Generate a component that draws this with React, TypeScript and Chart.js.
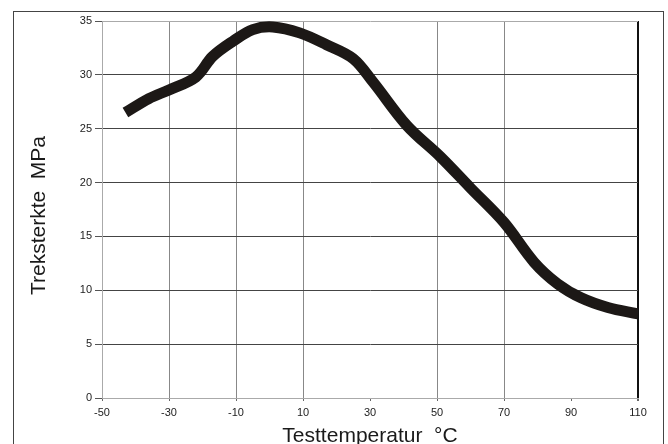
import React, { useEffect, useRef } from "react";
import { Chart, registerables } from "chart.js";

Chart.register(...registerables);

const temperatures = [-43, -36, -30, -22, -17, -11, -5, 1, 9, 17, 25, 31, 41, 51, 60, 70, 79, 86, 93, 101, 110];
const strengths = [26.5, 27.8, 28.6, 29.8, 31.7, 33.1, 34.2, 34.45, 33.9, 32.8, 31.5, 29.3, 25.3, 22.4, 19.5, 16.3, 12.6, 10.6, 9.3, 8.4, 7.8];
const xTicks = [-50, -30, -10, 10, 30, 50, 70, 90, 110];
const yTicks = [0, 5, 10, 15, 20, 25, 30, 35];
const xTitle = "Testtemperatur  °C";
const yTitle = "Treksterkte  MPa";

const FONT = "'Liberation Sans', Arial, sans-serif";

const titlePlugin = {
  id: "axisTitles",
  afterDraw(chart: any) {
    const ctx = chart.ctx;
    ctx.save();
    ctx.fillStyle = "#1a1a1a";
    ctx.font = `21px ${FONT}`;
    ctx.textAlign = "center";
    ctx.textBaseline = "alphabetic";
    const a = chart.chartArea;
    ctx.fillText(xTitle, (a.left + a.right) / 2, 442);
    ctx.translate(45, (a.top + a.bottom) / 2 + 6);
    ctx.rotate(-Math.PI / 2);
    ctx.fillText(yTitle, 0, 0);
    ctx.restore();
  },
};

export default function App() {
  const ref = useRef<HTMLCanvasElement>(null);
  useEffect(() => {
    if (!ref.current) return;
    const chart = new Chart(ref.current, {
      type: "line",
      data: {
        datasets: [
          {
            data: temperatures.map((t, i) => ({ x: t, y: strengths[i] })),
            borderColor: "#1c1816",
            borderWidth: 11,
            pointRadius: 0,
            tension: 0.35,
            fill: false,
          },
        ],
      },
      options: {
        animation: false,
        responsive: true,
        maintainAspectRatio: false,
        layout: { padding: { top: 21, right: 30, left: 0, bottom: 0 } },
        plugins: { legend: { display: false }, tooltip: { enabled: false } },
        scales: {
          x: {
            type: "linear",
            min: -50,
            max: 110,
            afterBuildTicks: (s: any) => {
              s.ticks = xTicks.map((v) => ({ value: v }));
            },
            afterFit: (s: any) => {
              s.height = 46;
            },
            grid: {
              color: (c: any) => {
                const v = c.tick?.value;
                if (v === -50) return "#aaa";
                if (v === 30 || v === 90) return "rgba(0,0,0,0)";
                if (v === 110) return "#111";
                return "#888";
              },
              lineWidth: (c: any) => (c.tick?.value === 110 ? 2 : 1),
              tickColor: "#666",
              tickLength: 3,
            },
            border: { display: true, color: "#aaa" },
            ticks: {
              padding: 5,
              color: "#222",
              font: { size: 11, family: FONT },
              callback: (v: any) => String(v),
            },
          },
          y: {
            type: "linear",
            min: 0,
            max: 35,
            afterBuildTicks: (s: any) => {
              s.ticks = yTicks.map((v) => ({ value: v }));
            },
            afterFit: (s: any) => {
              s.width = 102;
            },
            grid: {
              color: (c: any) => {
                const v = c.tick?.value;
                if (v === 0 || v === 35) return "#aaa";
                return "#444";
              },
              tickColor: "#555",
              tickLength: 7,
            },
            border: { display: true, color: "#aaa" },
            ticks: {
              padding: 3,
              color: "#222",
              font: { size: 11, family: FONT },
              callback: (v: any) => String(v),
            },
          },
        },
      },
      plugins: [titlePlugin],
    });
    return () => chart.destroy();
  }, []);

  return (
    <div style={{ position: "fixed", left: 0, top: 0, width: 668, height: 444, overflow: "hidden", background: "#fff" }}>
      <div
        style={{
          position: "absolute",
          left: 13,
          top: 11,
          width: 651,
          height: 480,
          border: "1.5px solid #444",
          boxSizing: "border-box",
        }}
      />
      <div style={{ position: "absolute", left: 0, top: 0, width: 668, height: 444 }}>
        <canvas ref={ref} />
      </div>
    </div>
  );
}
